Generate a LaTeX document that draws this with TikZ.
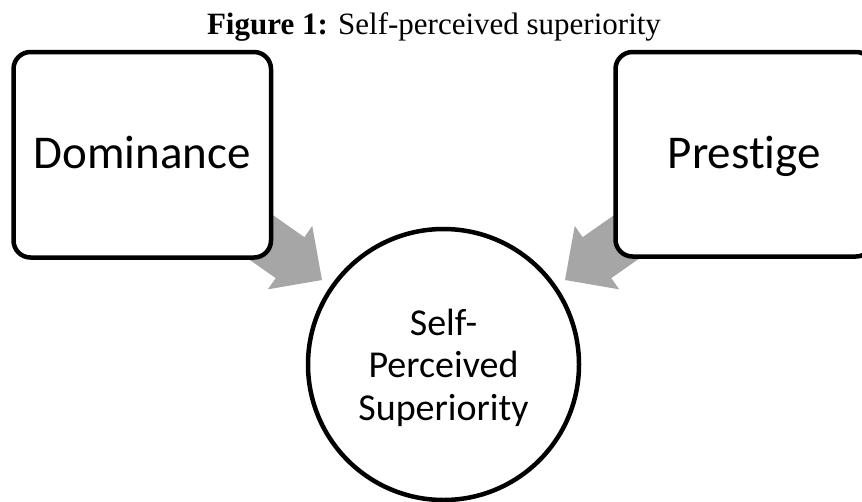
\documentclass[tikz,border=0pt]{standalone}
\usepackage{fontspec}
\setmainfont{Liberation Serif}
\newfontfamily\boxfont[Ligatures=NoCommon]{Carlito}
\usetikzlibrary{calc}
\definecolor{arrowgray}{RGB}{166,166,166}
\tikzset{
  concept/.style={draw=black, fill=white, line width=4.5pt, rounded corners=17pt},
  bigarrow/.style={fill=arrowgray, draw=none},
  boxtext/.style={anchor=base, inner sep=0pt, font=\boxfont\fontsize{47}{56}\selectfont},
  circtext/.style={anchor=base, inner sep=0pt, font=\boxfont\fontsize{38}{42}\selectfont},
}
\begin{document}
\begin{tikzpicture}[x=1pt, y=-1pt]
\useasboundingbox (0,0) rectangle (862,501);
\clip (0,0) rectangle (862,501);

% title
\node[anchor=base, inner sep=0pt, font=\fontsize{31}{36}\selectfont] (title) at (434,34)
  {\textbf{Figure 1:} Self-perceived superiority};

% central circle (outcome)
\node[circle, draw=black, fill=white, line width=4.5pt, minimum size=271pt, inner sep=0pt] (circ) at (443.5,364.5) {};

% block arrows (drawn behind the boxes)
\coordinate (tipL) at ($(circ.center)+(-121.5,-84.5)$);
\coordinate (tipR) at ($(circ.center)+(121.5,-84.5)$);
\begin{scope}[shift={(tipL)}, rotate=-35]
  \fill[bigarrow] (0,0) -- (-39,38.7) -- (-39,25) -- (-150,25) -- (-150,-25) -- (-39,-25) -- (-39,-38.7) -- cycle;
\end{scope}
\begin{scope}[shift={(tipR)}, rotate=-145]
  \fill[bigarrow] (0,0) -- (-39,38.7) -- (-39,25) -- (-150,25) -- (-150,-25) -- (-39,-25) -- (-39,-38.7) -- cycle;
\end{scope}

% source boxes
\draw[concept] (13.5,52) rectangle (271,257.5);
\draw[concept] (615.5,52) rectangle (873,256.5);
\node[boxtext] (dom) at (142.3,168) {Dominance};
\node[boxtext] (pre) at (744.3,168) {Prestige};

% circle text
\node[circtext] (c1) at (443.5,335) {Self-};
\node[circtext] (c2) at (443.5,377.5) {Perceived};
\node[circtext] (c3) at (443.5,420) {Superiority};
\end{tikzpicture}
\end{document}
